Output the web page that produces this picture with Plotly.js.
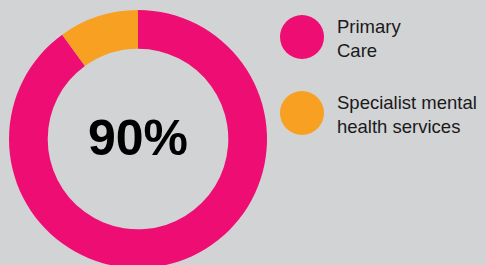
<!DOCTYPE html>
<html>
<head>
<meta charset="utf-8">
<script src="https://cdn.plot.ly/plotly-3.0.1.min.js"></script>
<style>
html, body { margin: 0; padding: 0; background: #d2d3d5; overflow: hidden; width: 486px; height: 265px; }
#chart { width: 486px; height: 278px; }
</style>
</head>
<body>
<div id="chart"></div>
<script>
// Data
const categories = ['Primary Care', 'Specialist mental health services'];
const legendLabels = ['Primary<br>Care', 'Specialist mental<br>health services'];
const values = [90, 10];
const colors = ['#ee0d73', '#f8a022'];
const centerLabel = '90%';

const W = 486, H = 278;
const px = x => x / W;
const py = y => 1 - y / H;

const trace = {
  type: 'pie',
  labels: categories,
  values: values,
  hole: 0.70,
  sort: false,
  direction: 'clockwise',
  rotation: 0,
  textinfo: 'none',
  hoverinfo: 'none',
  showlegend: false,
  marker: { colors: colors, line: { width: 0 } },
  domain: { x: [px(9), px(267)], y: [0, 1] }
};

const legendY = [37, 113];
const shapes = [];
const annotations = [{
  text: '<b>' + centerLabel + '</b>',
  x: px(138), y: py(137.5), xref: 'paper', yref: 'paper',
  xanchor: 'center', yanchor: 'middle', showarrow: false,
  font: { family: 'Liberation Sans, Arial, sans-serif', size: 50, color: '#000000' }
}];
categories.forEach((c, i) => {
  shapes.push({
    type: 'circle', xref: 'paper', yref: 'paper',
    xsizemode: 'pixel', ysizemode: 'pixel',
    xanchor: px(302), yanchor: py(legendY[i]),
    x0: -22, x1: 22, y0: -22, y1: 22,
    fillcolor: colors[i], line: { width: 0 }
  });
  annotations.push({
    text: legendLabels[i],
    x: px(335), y: py(legendY[i] + 1.5), xref: 'paper', yref: 'paper',
    xanchor: 'left', yanchor: 'middle', align: 'left', showarrow: false,
    font: { family: 'Liberation Sans, Arial, sans-serif', size: 18.5, color: '#1a1a1a' }
  });
});

const layout = {
  width: W, height: H,
  margin: { l: 0, r: 0, t: 0, b: 0 },
  paper_bgcolor: '#d2d3d5',
  plot_bgcolor: '#d2d3d5',
  showlegend: false,
  shapes: shapes,
  annotations: annotations
};

Plotly.newPlot('chart', [trace], layout, { displayModeBar: false, staticPlot: true });
</script>
</body>
</html>
